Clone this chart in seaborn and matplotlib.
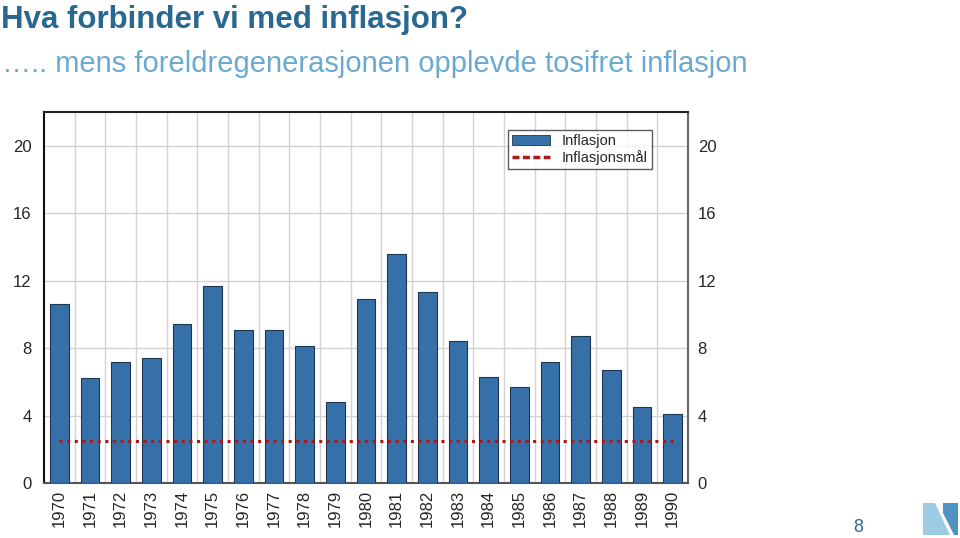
import matplotlib
matplotlib.use("Agg")
import matplotlib.pyplot as plt
import seaborn as sns
import pandas as pd
import numpy as np
from matplotlib.patches import Polygon, Patch
from matplotlib.lines import Line2D

years = [str(y) for y in range(1970, 1991)]
inflasjon = [10.6, 6.2, 7.2, 7.4, 9.4, 11.7, 9.1, 9.1, 8.1, 4.8, 10.9, 13.6, 11.3, 8.4, 6.3, 5.7, 7.2, 8.7, 6.7, 4.5, 4.1]
inflasjonsmal = [2.5] * len(years)
yticks = [0, 4, 8, 12, 16, 20]

title = "Hva forbinder vi med inflasjon?"
subtitle = "….. mens foreldregenerasjonen opplevde tosifret inflasjon"

sns.set_theme(style="white")
plt.rcParams['font.family'] = ['Liberation Sans', 'DejaVu Sans']

bar_color = "#3670a8"
red = "#a51c1c"

df = pd.DataFrame({"År": years, "Inflasjon": inflasjon, "Inflasjonsmål": inflasjonsmal})

fig = plt.figure(figsize=(9.6, 5.38), dpi=100)
ax = fig.add_axes([44/960, 1-483/538, 644/960, 371/538])

sns.barplot(data=df, x="År", y="Inflasjon", color=bar_color, saturation=1,
            width=0.6, edgecolor="#1f3550", linewidth=0.8, ax=ax, zorder=3)
ax.plot(np.arange(len(years)), df["Inflasjonsmål"], linestyle=(0, (1, 1.5)),
        color=red, linewidth=2.2, zorder=4)
ax.set_xlim(-0.5, len(years) - 0.5)
ax.set_ylim(0, 22)
ax.set_yticks(yticks)
ax.set_yticklabels([str(v) for v in yticks], fontsize=12)
ax.set_xlabel("")
ax.set_ylabel("")
ax.grid(False)
ax.tick_params(axis="x", labelrotation=90, labelsize=12, length=0, pad=5)
ax.tick_params(axis="y", length=0, pad=9)

for yv in yticks[1:]:
    ax.axhline(yv, color="#d3d3d3", linewidth=1, zorder=0)
for xv in np.arange(0.5, len(years) - 0.5, 1):
    ax.axvline(xv, color="#d3d3d3", linewidth=1, zorder=0)

ax.spines["left"].set_color("#111111")
ax.spines["top"].set_color("#222222")
ax.spines["right"].set_color("#666666")
ax.spines["bottom"].set_color("#555555")
for s in ax.spines.values():
    s.set_linewidth(1.5)

ax2 = ax.twinx()
ax2.set_ylim(0, 22)
ax2.set_yticks(yticks)
ax2.set_yticklabels([str(v) for v in yticks], fontsize=12)
ax2.tick_params(axis="y", length=0, pad=7)
ax2.grid(False)
for s in ax2.spines.values():
    s.set_visible(False)

handles = [Patch(facecolor=bar_color, edgecolor="#1f3550", linewidth=0.6),
           Line2D([0], [0], color=red, linestyle=(0, (2, 1)), linewidth=2.5)]
leg = ax.legend(handles, ["Inflasjon", "Inflasjonsmål"], loc="upper left",
                bbox_to_anchor=(464/644, 1 - 18/371), fontsize=10.5, frameon=True,
                fancybox=False, borderpad=0.3, handlelength=2.6, labelspacing=0.12,
                handletextpad=0.8, borderaxespad=0)
leg.get_frame().set_edgecolor("#333333")
leg.get_frame().set_linewidth(1)

fig.text(1/960, 1 - 20/538, title, fontsize=22.5, fontweight="bold", color="#2a6892",
         va="center", ha="left")
fig.text(2/960, 1 - 64/538, subtitle, fontsize=21, color="#6aaad2", va="center", ha="left")
fig.text(858/960, 1 - 528/538, "8", fontsize=13, color="#2e6a94", va="center", ha="center")

# logo
lx0, ly0 = 923, 503
def P(pts, color):
    fig.patches.append(Polygon([((lx0 + x)/960, 1 - (ly0 + y)/538) for x, y in pts],
                               closed=True, transform=fig.transFigure, facecolor=color, edgecolor="none"))
P([(0, 0), (12, 0), (27, 32), (0, 32)], "#9ccbe4")
P([(20, 0), (35, 0), (35, 32), (31, 32), (20, 10)], "#4f93c2")

fig.savefig("out.png", dpi=100, facecolor="white")
